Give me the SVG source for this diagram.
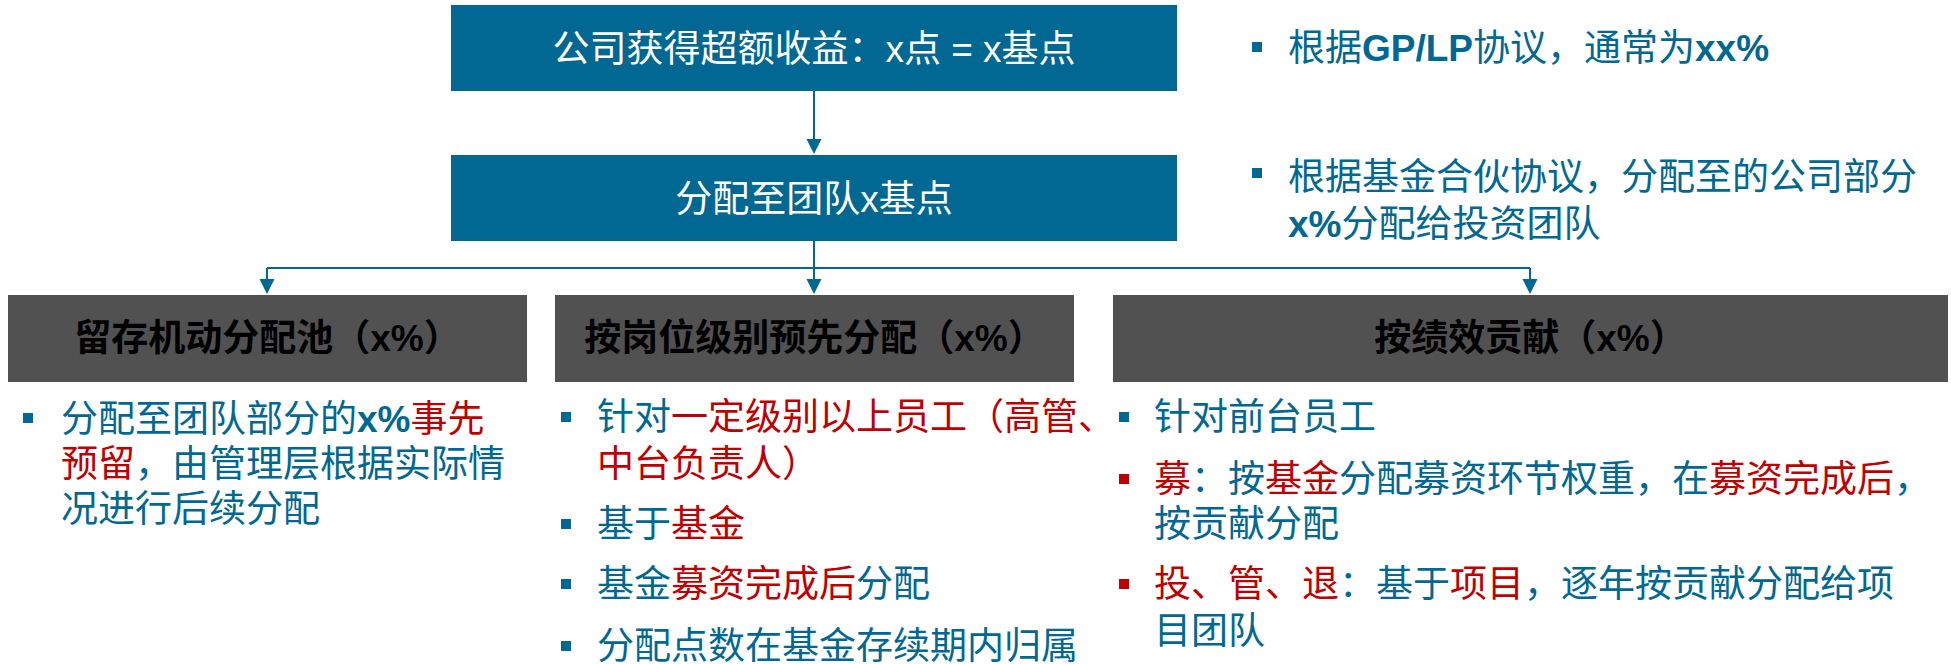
<svg xmlns="http://www.w3.org/2000/svg" width="1951" height="664" viewBox="0 0 1951 664">
<style>
text{font-family:"Liberation Sans","Noto Sans CJK SC",sans-serif;font-size:37px}
.bx{fill:#006892}
.gb{fill:#515151}
.wt{fill:#ffffff}
.hd{fill:#000000;font-weight:bold}
.b{fill:#006892}
.r{fill:#C00000}
.bd{font-weight:bold}
.sqb{fill:#006892}
.sqr{fill:#C00000}
.con{stroke:#006892;stroke-width:2;fill:none}
</style>
<defs>
<marker id="ah" markerUnits="userSpaceOnUse" markerWidth="16" markerHeight="16" refX="13" refY="7.5" orient="auto">
<path d="M0,0 L15,7.5 L0,15 z" fill="#006892"/>
</marker>
</defs>
<g id="connectors">
<path class="con" d="M814,91 V152" marker-end="url(#ah)"/>
<path class="con" d="M814,241 V292" marker-end="url(#ah)"/>
<path class="con" d="M267,268 H1530"/>
<path class="con" d="M267,268 V292" marker-end="url(#ah)"/>
<path class="con" d="M1530,268 V292" marker-end="url(#ah)"/>
</g>
<g id="node-top">
<rect class="bx" x="451" y="5" width="726" height="86"/>
<text class="wt" x="814" y="62" text-anchor="middle">公司获得超额收益：x点 = x基点</text>
</g>
<g id="node-team">
<rect class="bx" x="451" y="155" width="726" height="86"/>
<text class="wt" x="814" y="212" text-anchor="middle">分配至团队x基点</text>
</g>
<g id="note-top">
<rect class="sqb" x="1252" y="42" width="10" height="10"/>
<text class="b" x="1288" y="61">根据<tspan class="bd">GP/LP</tspan>协议，通常为<tspan class="bd">xx%</tspan></text>
</g>
<g id="note-team">
<rect class="sqb" x="1252" y="168" width="10" height="10"/>
<text class="b" x="1288" y="190">根据基金合伙协议，分配至的公司部分</text>
<text class="b" x="1288" y="237"><tspan class="bd">x%</tspan>分配给投资团队</text>
</g>
<g id="node-pool">
<rect class="gb" x="8" y="295" width="519" height="87"/>
<text class="hd" x="267.5" y="351" text-anchor="middle">留存机动分配池（x%）</text>
<rect class="sqb" x="23" y="413" width="10" height="10"/>
<text x="61" y="432"><tspan class="b">分配至团队部分的</tspan><tspan class="b bd">x%</tspan><tspan class="r">事先</tspan></text>
<text x="61" y="477"><tspan class="r">预留</tspan><tspan class="b">，由管理层根据实际情</tspan></text>
<text class="b" x="61" y="522">况进行后续分配</text>
</g>
<g id="node-level">
<rect class="gb" x="555" y="295" width="519" height="87"/>
<text class="hd" x="814.5" y="351" text-anchor="middle">按岗位级别预先分配（x%）</text>
<rect class="sqb" x="561" y="412" width="10" height="10"/>
<text x="597" y="430"><tspan class="b">针对</tspan><tspan class="r">一定级别以上员工（高管、</tspan></text>
<text class="r" x="597" y="477">中台负责人）</text>
<rect class="sqb" x="561" y="519" width="10" height="10"/>
<text x="597" y="537"><tspan class="b">基于</tspan><tspan class="r">基金</tspan></text>
<rect class="sqb" x="561" y="579" width="10" height="10"/>
<text x="597" y="597"><tspan class="b">基金</tspan><tspan class="r">募资完成后</tspan><tspan class="b">分配</tspan></text>
<rect class="sqb" x="561" y="641" width="10" height="10"/>
<text class="b" x="597" y="659">分配点数在基金存续期内归属</text>
</g>
<g id="node-perf">
<rect class="gb" x="1113" y="295" width="835" height="87"/>
<text class="hd" x="1530.5" y="351" text-anchor="middle">按绩效贡献（x%）</text>
<rect class="sqb" x="1119" y="412" width="10" height="10"/>
<text class="b" x="1154" y="430">针对前台员工</text>
<rect class="sqr" x="1119" y="474" width="10" height="10"/>
<text x="1154" y="492"><tspan class="r">募</tspan><tspan class="b">：按</tspan><tspan class="r">基金</tspan><tspan class="b">分配募资环节权重，在</tspan><tspan class="r">募资完成后</tspan><tspan class="b">，</tspan></text>
<text class="b" x="1154" y="537">按贡献分配</text>
<rect class="sqr" x="1119" y="579" width="10" height="10"/>
<text x="1154" y="597"><tspan class="r">投、管、退</tspan><tspan class="b">：基于</tspan><tspan class="r">项目</tspan><tspan class="b">，逐年按贡献分配给项</tspan></text>
<text class="b" x="1154" y="644">目团队</text>
</g>
</svg>
